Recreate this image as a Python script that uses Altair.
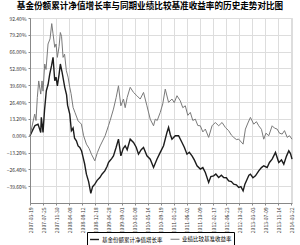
import altair as alt
import pandas as pd

TITLE = "基金份额累计净值增长率与同期业绩比较基准收益率的历史走势对比图"
SERIES = ["基金份额累计净值增长率", "业绩比较基准收益率"]

# time in trading weeks since inception
bench_w = [0, 4.7, 6, 7.3, 8.7, 10.7, 12, 13, 14.7, 16, 18, 20, 21.7, 23, 24.7, 26, 27.3, 29, 30.3, 31.5,
           33, 34.5, 36.3, 38, 39.7, 41, 43, 45, 48, 51.3, 53.5, 56.3, 59, 61.3, 64.7, 67.3, 70, 75, 78.3, 80,
           83.3, 86, 88.3, 90.7, 93.3, 95, 97, 100, 103.3, 106.7, 110, 113.3, 116.7, 120, 123.3, 125, 127, 130,
           132.5, 135, 138.3, 141.7, 144, 146.7, 150, 152.5, 155, 157.5, 160, 162.5, 165, 167.5, 170, 172.5,
           175, 178.3, 181.7, 185, 188.3, 191.7, 195, 198.3, 201, 203.3, 206, 208.3, 212.7, 215, 217.5, 220,
           223.3, 226, 228.3, 231, 233.3, 235.5, 238.3, 241.7, 244, 246.7, 249, 251.7, 254, 256.7, 259, 261.5]
bench_v = [0, 17, 12, 30, 43, 32.7, 43, 35, 56.3, 52, 72, 76, 88, 80, 69.4, 72, 61.5, 70, 81, 78,
           61.5, 64, 51, 46, 38, 33, 22.2, 18, 11.7, 9.1, 0, -6.6, -10, -14.5, -19.7, -13.1, -8, 0, 7.8, 12,
           20.9, 30, 39.2, 23.5, 28.8, 22, 30, 38, 34, 31.4, 28.8, 34, 23.5, 13, 7.8, 13, 12, 18.3,
           25, 36.6, 26.2, 28.8, 26, 31.4, 27.4, 22, 23.5, 16, 18.3, 12, 13, 8, 7.8, 3,
           5.2, -1.3, 7.8, 10.4, 7.8, 10.4, 6.5, 3.9, 0.5, -1.3, -3, -2.7, -6.6, 5.2, 10, 14.4,
           9.1, 11, 7.8, 5, -2.7, 2, 0, 7.8, 6, 5.2, 2, 1.3, 4, -1.3, 0, -2.7]

fund_w = [0, 3, 5, 8, 10.7, 11.3, 13, 14.5, 16.3, 18, 19.7, 21.5, 23, 24.7, 26, 27.3, 29, 30.3, 32, 34.7,
          36.5, 37.5, 39.7, 41.3, 43, 44.5, 46.3, 48, 49.7, 51.5, 53, 54.5, 56.3, 58.5, 60.7, 62.5, 64.7, 67,
          69.7, 72, 74.7, 77, 78.3, 79.7, 81.5, 83.3, 86, 88.3, 90.7, 93, 95, 97, 100, 103.3, 106, 108.3, 111,
          113.3, 116.7, 120, 123.3, 126.7, 130, 133.3, 136.7, 138.3, 140, 141.7, 145, 148.3, 151.7, 154, 156.7,
          159, 161.7, 164, 166.7, 170, 172.5, 175, 178.3, 180.5, 183.3, 185.5, 188.3, 191, 193.3, 196, 198.3,
          201, 203.3, 206, 208.3, 210.5, 212.7, 214.5, 216.7, 218.5, 220, 222.5, 225, 228.3, 231, 233.3, 236.7,
          239, 241.7, 245, 248.3, 251, 253.3, 256, 258.3, 260, 261.5]
fund_v = [0, 5, 8, 9.1, 2.6, 14.4, 2.6, 20, 35.3, 40, 48.4, 55, 61.5, 43.1, 46, 39.2, 48, 56.3, 50, 38,
          32, 24, 17, 3.9, 6, -2, -4, -8, -9.2, -12, -17, -22, -30.2, -36, -45.3, -40, -38, -35,
          -32.8, -30, -27.6, -24, -21, -19.7, -18, -15.8, -9, -2.7, -15.8, -10, -7.9, -11, -2.7, -5.3, -9, -14.5, -11,
          -9.2, -15.8, -18.4, -24.9, -18.4, -13.1, -7.9, 2.6, 6.5, 1, -2.7, 0, 0, -5.3, -9, -14.5,
          -13, -15.8, -19, -23.6, -26.2, -25, -28.9, -36.7, -32, -31.5, -30, -32.8, -31, -32.8, -33, -35.4,
          -36, -38, -38.5, -40.6, -40, -43.3, -38, -34.1, -31, -30.2, -33, -31.5, -27.6, -25, -23.6, -24.9,
          -21, -18.4, -13.1, -21, -19, -22.3, -16, -11.8, -14, -18.4]

x_tick_labels = ["2007-03-19", "2007-07-25", "2007-11-30", "2008-04-08", "2008-08-12", "2008-12-18",
                 "2009-04-28", "2009-09-01", "2010-01-08", "2010-05-14", "2010-09-19", "2011-01-25",
                 "2011-06-02", "2011-10-09", "2012-02-17", "2012-06-23", "2012-10-28", "2013-03-03",
                 "2013-07-09", "2013-11-14", "2014-03-22"]
tick_step = 13.05
x_ticks = [round(i * tick_step, 2) for i in range(len(x_tick_labels))]
y_ticks = [-39.6, -26.4, -13.2, 0, 13.2, 26.4, 39.6, 52.8, 66.0, 79.2, 92.4]

df = pd.concat([
    pd.DataFrame({"w": fund_w, "v": fund_v, "s": SERIES[0], "o": 0}),
    pd.DataFrame({"w": bench_w, "v": bench_v, "s": SERIES[1], "o": 1}),
])

lbl_arr = "[" + ",".join(f"'{l}'" for l in x_tick_labels) + "]"

FONT = "Noto Sans CJK SC"

chart = alt.Chart(df).mark_line(interpolate="linear").encode(
    x=alt.X("w:Q", scale=alt.Scale(domain=[0, 261.5], nice=False, zero=False),
            axis=alt.Axis(values=x_ticks, title=None, labelAngle=270, labelFontSize=5,
                          labelExpr=f"{lbl_arr}[round(datum.value/{tick_step})]",
                          labelColor="#333", tickSize=2, labelPadding=2, labelFont=FONT)),
    y=alt.Y("v:Q", scale=alt.Scale(domain=[-52.8, 92.4], nice=False, zero=False),
            axis=alt.Axis(values=y_ticks, title=None, labelFontSize=5,
                          labelExpr="format(datum.value,'.2f')+'%'",
                          labelColor="#333", tickSize=2, labelPadding=2, labelFont=FONT)),
    color=alt.Color("s:N", scale=alt.Scale(domain=SERIES, range=["#1c1c1c", "#7a7a7a"]),
                    legend=alt.Legend(title=None, orient="none", legendX=57, legendY=214,
                                      direction="horizontal", strokeColor="#000", padding=2,
                                      symbolType="stroke", symbolSize=80, symbolStrokeWidth=1.2,
                                      labelFontSize=5.5, labelFont=FONT, columnPadding=5,
                                      symbolOffset=0, labelOffset=2, labelColor="#000")),
    strokeWidth=alt.StrokeWidth("s:N", scale=alt.Scale(domain=SERIES, range=[1.4, 1.0]), legend=None),
    order="o:Q",
).properties(
    width=262, height=185,
    title=alt.TitleParams(TITLE, fontSize=8.6, fontWeight="bold", font=FONT, anchor="middle",
                          dx=-11, offset=5, color="#000"),
    padding={"left": 30, "top": 18, "right": 8, "bottom": 42},
    autosize=alt.AutoSizeParams(type="none"),
).configure_axis(
    grid=True, gridColor="#999", gridDash=[1.5, 1.5], gridWidth=0.7,
    domainColor="#bbb", domainWidth=2.5, tickColor="#888",
).configure_view(
    stroke="#aaa", strokeWidth=1,
).configure(background="white")

chart.save("out.html", embed_options={"renderer": "svg", "actions": False})
